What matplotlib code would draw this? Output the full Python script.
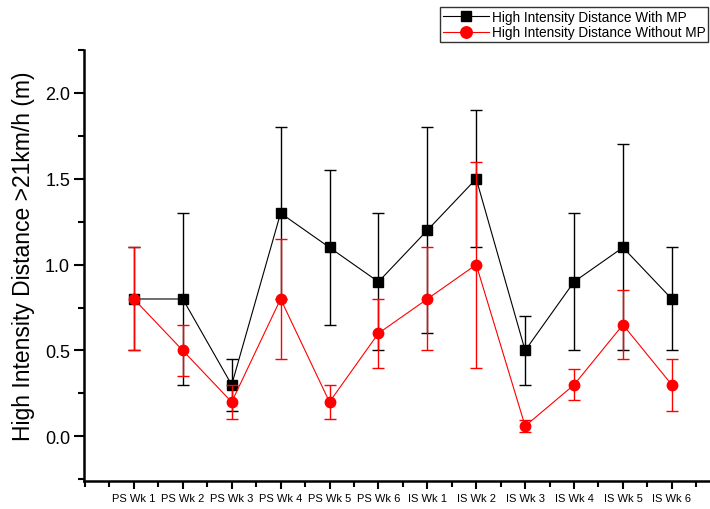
import matplotlib
matplotlib.use("Agg")
import matplotlib.pyplot as plt
import numpy as np
from matplotlib.ticker import MultipleLocator

# weekly sessions (pre-season / in-season)
weeks = ["PS Wk 1", "PS Wk 2", "PS Wk 3", "PS Wk 4", "PS Wk 5", "PS Wk 6",
         "IS Wk 1", "IS Wk 2", "IS Wk 3", "IS Wk 4", "IS Wk 5", "IS Wk 6"]
with_mp = [0.8, 0.8, 0.3, 1.3, 1.1, 0.9, 1.2, 1.5, 0.5, 0.9, 1.1, 0.8]
with_mp_err = [0.3, 0.5, 0.15, 0.5, 0.45, 0.4, 0.6, 0.4, 0.2, 0.4, 0.6, 0.3]
without_mp = [0.8, 0.5, 0.2, 0.8, 0.2, 0.6, 0.8, 1.0, 0.06, 0.3, 0.65, 0.3]
without_mp_err = [0.3, 0.15, 0.1, 0.35, 0.1, 0.2, 0.3, 0.6, 0.035, 0.09, 0.2, 0.15]

plt.rcParams["font.family"] = ["Liberation Sans", "DejaVu Sans"]

fig = plt.figure(figsize=(7.1, 5.1), dpi=100)
ax = fig.add_axes([84 / 710, 28 / 510, 1 - 84 / 710, 431 / 510])

x = np.arange(1, len(weeks) + 1)

eb1 = ax.errorbar(x, with_mp, yerr=with_mp_err, color="black", lw=0.8,
                  marker="s", ms=7, mfc="black", mec="black",
                  ecolor="black", elinewidth=1.0, capsize=4, capthick=1.0,
                  zorder=2)
eb2 = ax.errorbar(x, without_mp, yerr=without_mp_err, color="#ff0000", lw=0.8,
                  marker="o", ms=7.5, mfc="#ff0000", mec="#ff0000",
                  ecolor="#ff0000", elinewidth=1.0, capsize=4, capthick=1.0,
                  zorder=3)

ax.set_xlim(-0.02, 12.78)
ax.set_ylim(-0.26, 2.25)

ax.set_xticks(x)
ax.set_xticklabels(weeks, fontsize=8)
ax.xaxis.set_minor_locator(MultipleLocator(0.5))
ax.yaxis.set_major_locator(MultipleLocator(0.5))
ax.yaxis.set_minor_locator(MultipleLocator(0.25))
ax.tick_params(axis="y", which="major", direction="out", length=7, width=1.5,
               labelsize=13, pad=3)
ax.tick_params(axis="y", which="minor", direction="out", length=4, width=1.5)
ax.tick_params(axis="x", which="major", direction="out", length=6, width=1.5,
               labelsize=8, pad=3)
ax.tick_params(axis="x", which="minor", direction="out", length=4, width=1.5)

ax.set_ylabel("High Intensity Distance >21km/h (m)", fontsize=16.5)
ax.yaxis.set_label_coords(-0.078, 0.523)

for side in ("top", "right"):
    ax.spines[side].set_visible(False)
for side in ("left", "bottom"):
    ax.spines[side].set_linewidth(1.8)

leg = fig.legend([eb1[0], eb2[0]],
                 ["High Intensity Distance With MP", "High Intensity Distance Without MP"],
                 loc="upper right", bbox_to_anchor=(708 / 710, 1 - 8 / 510),
                 fontsize=9.8, frameon=True, fancybox=False, edgecolor="black",
                 borderpad=0.2, labelspacing=0.12, handlelength=3.4,
                 handletextpad=0.2, borderaxespad=0, markerscale=1.1)
leg.get_frame().set_linewidth(1.0)

fig.savefig("out.png", dpi=100, facecolor="white")
plt.close(fig)
